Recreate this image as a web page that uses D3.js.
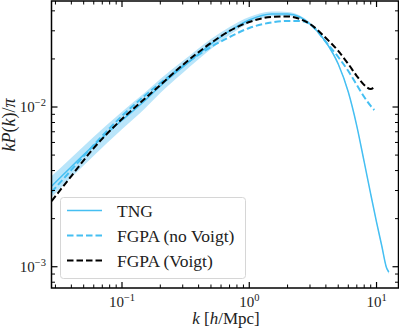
<!DOCTYPE html>
<html>
<head>
<meta charset="utf-8">
<script src="https://cdn.jsdelivr.net/npm/d3@7"></script>
<style>
  html, body { margin: 0; padding: 0; background: #fff; }
  svg { display: block; }
  svg text { font-family: "Liberation Serif", "DejaVu Serif", serif; }
</style>
</head>
<body>
<div id="chart"></div>
<script>
"use strict";

// k values [h/Mpc]
const k_vals = [0.028, 0.04, 0.06, 0.1, 0.15, 0.2, 0.3, 0.5, 0.7, 1.0, 1.5, 2, 2.5, 3, 4, 5, 6, 7, 8, 9, 10, 11, 12, 12.5];
const k_fgpa = [0.028, 0.04, 0.06, 0.1, 0.15, 0.2, 0.3, 0.5, 0.7, 1.0, 1.5, 2, 2.5, 3, 4, 5, 6, 7, 8, 9, 9.6];

// kP(k)/pi
const tng = [0.0032, 0.00423, 0.00575, 0.00826, 0.01091, 0.01355, 0.01779, 0.02477, 0.02992, 0.03508, 0.03822, 0.03822, 0.03662, 0.03311, 0.02553, 0.01858, 0.01241, 0.0076, 0.00453, 0.00285, 0.001905, 0.001349, 0.000982, 0.000927];
const tng_hi = [0.0037, 0.00482, 0.00652, 0.00935, 0.01225, 0.01496, 0.0194, 0.02667, 0.0317, 0.03662, 0.03962, 0.03936, 0.03741, 0.03382, 0.0259, 0.01885, 0.0126, 0.00772, 0.0046, 0.0029, 0.00194, 0.001375, 0.001005, 0.000955];
const tng_lo = [0.00273, 0.00362, 0.00496, 0.00726, 0.00972, 0.01225, 0.01633, 0.02307, 0.02825, 0.03359, 0.03689, 0.03714, 0.03581, 0.03236, 0.0252, 0.0183, 0.01222, 0.00748, 0.00446, 0.0028, 0.00187, 0.001323, 0.00096, 0.0009];
const fgpa_no_voigt = [0.002938, 0.004036, 0.00578, 0.00879, 0.01172, 0.01413, 0.01807, 0.02377, 0.02742, 0.03126, 0.03383, 0.03459, 0.03459, 0.03311, 0.02553, 0.02056, 0.01679, 0.01374, 0.01156, 0.01015, 0.00958];
const fgpa_voigt = [0.002576, 0.003698, 0.00553, 0.00841, 0.01122, 0.01374, 0.01833, 0.02517, 0.02992, 0.03405, 0.03662, 0.03689, 0.03557, 0.03311, 0.02704, 0.02243, 0.01858, 0.01563, 0.01374, 0.01297, 0.01334];

// tick labels
const x_major = [0.1, 1, 10];
const x_major_exp = ["\u22121", "0", "1"];
const y_major = [0.001, 0.01];
const y_major_exp = ["\u22123", "\u22122"];

// legend
const legend_names = ["TNG", "FGPA (no Voigt)", "FGPA (Voigt)"];

const W = 399, H = 331;
const m = { left: 51.5, right: 398.5, top: 1, bottom: 288 };
const blue = "#45bff2";

const svg = d3.select("#chart").append("svg")
  .attr("width", W)
  .attr("height", H);

const x = d3.scaleLog().domain([0.02793, 14.88]).range([m.left, m.right]);
const y = d3.scaleLog().domain([0.000736, 0.0461]).range([m.bottom, m.top]);

svg.append("clipPath").attr("id", "clip")
  .append("rect")
  .attr("x", m.left).attr("y", m.top)
  .attr("width", m.right - m.left).attr("height", m.bottom - m.top);

const plot = svg.append("g").attr("clip-path", "url(#clip)");

// shaded band round TNG
const band = d3.area()
  .x((d, i) => x(k_vals[i]))
  .y0((d, i) => y(tng_lo[i]))
  .y1((d, i) => y(tng_hi[i]))
  .curve(d3.curveMonotoneX);

plot.append("path")
  .datum(tng)
  .attr("d", band)
  .attr("fill", "#7fd0f5")
  .attr("opacity", 0.55);

const line_k = (ks) => d3.line()
  .x((d, i) => x(ks[i]))
  .y(d => y(d))
  .curve(d3.curveMonotoneX);

plot.append("path")
  .datum(tng)
  .attr("d", line_k(k_vals))
  .attr("fill", "none")
  .attr("stroke", blue)
  .attr("stroke-width", 1.5);

plot.append("path")
  .datum(fgpa_no_voigt)
  .attr("d", line_k(k_fgpa))
  .attr("fill", "none")
  .attr("stroke", blue)
  .attr("stroke-width", 2)
  .attr("stroke-dasharray", "6.5,3");

plot.append("path")
  .datum(fgpa_voigt)
  .attr("d", line_k(k_fgpa))
  .attr("fill", "none")
  .attr("stroke", "#000")
  .attr("stroke-width", 2)
  .attr("stroke-dasharray", "6.5,3");

// ticks (inside, all four sides)
const minor_x = [];
[0.01, 0.1, 1, 10].forEach(dec => {
  for (let j = 2; j <= 9; j++) {
    const v = dec * j;
    if (v > x.domain()[0] && v < x.domain()[1]) minor_x.push(v);
  }
});
const minor_y = [];
[0.0001, 0.001, 0.01].forEach(dec => {
  for (let j = 2; j <= 9; j++) {
    const v = dec * j;
    if (v > y.domain()[0] && v < y.domain()[1]) minor_y.push(v);
  }
});

const ticks = svg.append("g").attr("stroke", "#000");
const tick_x = (vals, len, w) => {
  vals.forEach(v => {
    ticks.append("line").attr("x1", x(v)).attr("x2", x(v))
      .attr("y1", m.bottom).attr("y2", m.bottom - len).attr("stroke-width", w);
    ticks.append("line").attr("x1", x(v)).attr("x2", x(v))
      .attr("y1", m.top).attr("y2", m.top + len).attr("stroke-width", w);
  });
};
const tick_y = (vals, len, w) => {
  vals.forEach(v => {
    ticks.append("line").attr("y1", y(v)).attr("y2", y(v))
      .attr("x1", m.left).attr("x2", m.left + len).attr("stroke-width", w);
    ticks.append("line").attr("y1", y(v)).attr("y2", y(v))
      .attr("x1", m.right).attr("x2", m.right - len).attr("stroke-width", w);
  });
};
tick_x(x_major, 6, 1.2);
tick_x(minor_x, 3.5, 1);
tick_y(y_major, 6, 1.2);
tick_y(minor_y, 3.5, 1);

// frame
svg.append("rect")
  .attr("x", m.left).attr("y", m.top)
  .attr("width", m.right - m.left).attr("height", m.bottom - m.top)
  .attr("fill", "none")
  .attr("stroke", "#000")
  .attr("stroke-width", 1.5);

// tick labels
const power_label = (g, base_x, base_y, exp, anchor) => {
  const t = g.append("text")
    .attr("x", base_x).attr("y", base_y)
    .attr("text-anchor", anchor)
    .style("font-size", "15px")
    .attr("fill", "#222");
  t.append("tspan").text("10");
  t.append("tspan").text(exp)
    .style("font-size", "10.5px")
    .attr("dy", -6);
};

x_major.forEach((v, i) => power_label(svg, x(v), 307, x_major_exp[i], "middle"));
y_major.forEach((v, i) => power_label(svg, 46, y(v) + 5, y_major_exp[i], "end"));

// axis labels
const xl = svg.append("text")
  .attr("x", 226).attr("y", 324)
  .attr("text-anchor", "middle")
  .style("font-size", "17px")
  .attr("fill", "#222");
xl.append("tspan").text("k").style("font-style", "italic");
xl.append("tspan").text(" [");
xl.append("tspan").text("h").style("font-style", "italic");
xl.append("tspan").text("/Mpc]");

const yl = svg.append("text")
  .attr("transform", "translate(15,125) rotate(-90)")
  .attr("text-anchor", "middle")
  .style("font-size", "18px")
  .attr("fill", "#222");
yl.append("tspan").text("kP").style("font-style", "italic");
yl.append("tspan").text("(");
yl.append("tspan").text("k").style("font-style", "italic");
yl.append("tspan").text(")/");
yl.append("tspan").text("\u03c0").style("font-style", "italic");

// legend
const lg = svg.append("g");
lg.append("rect")
  .attr("x", 60.5).attr("y", 197.5)
  .attr("width", 185).attr("height", 81)
  .attr("rx", 3)
  .attr("fill", "#fff")
  .attr("fill-opacity", 0.8)
  .attr("stroke", "#d6d6d6")
  .attr("stroke-width", 1);

const legend_style = [
  { color: blue, dash: null, w: 1.5 },
  { color: blue, dash: "6.5,3", w: 2 },
  { color: "#000", dash: "6.5,3", w: 2 }
];

legend_names.forEach((name, i) => {
  const ly = 210.5 + i * 25;
  lg.append("line")
    .attr("x1", 67).attr("x2", 102)
    .attr("y1", ly).attr("y2", ly)
    .attr("stroke", legend_style[i].color)
    .attr("stroke-width", legend_style[i].w)
    .attr("stroke-dasharray", legend_style[i].dash);
  lg.append("text")
    .text(name)
    .attr("x", 117)
    .attr("y", ly + 6)
    .style("font-size", "17.5px")
    .attr("fill", "#222");
});
</script>
</body>
</html>
